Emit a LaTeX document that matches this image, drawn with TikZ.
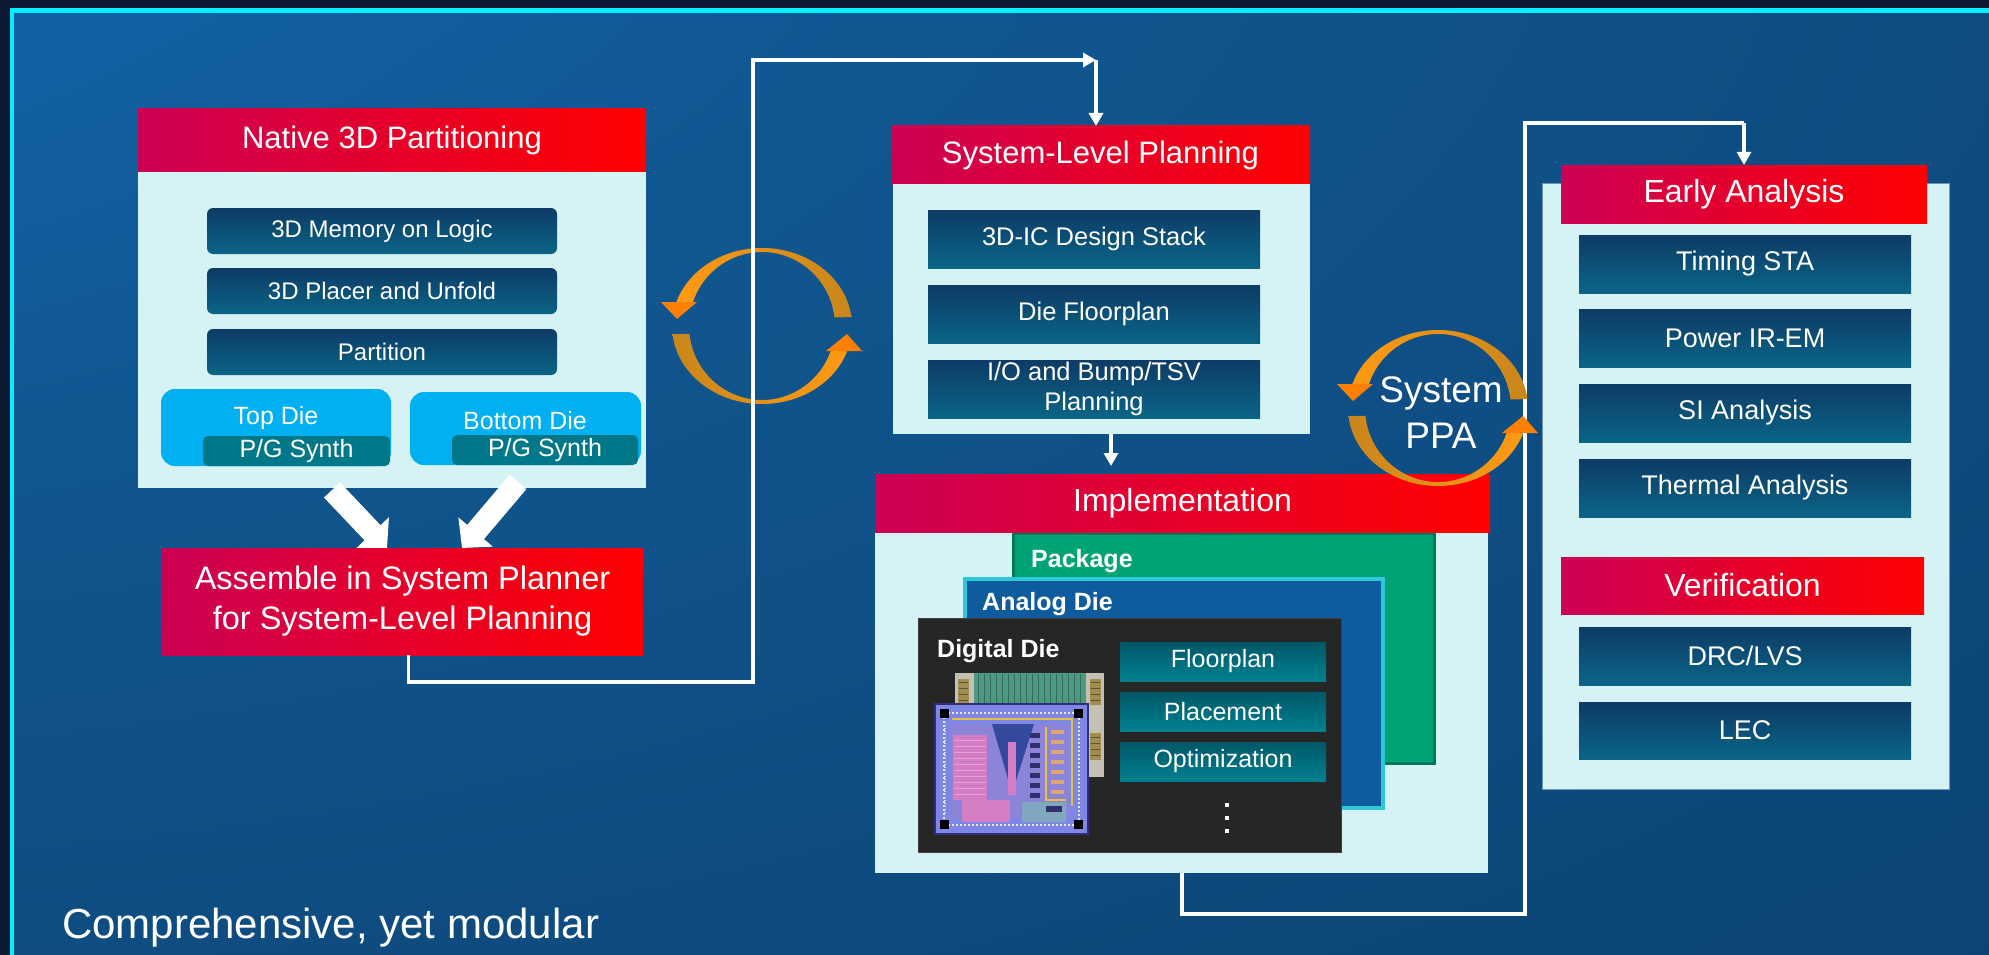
\documentclass[tikz,border=0pt]{standalone}
\usepackage{fontspec}
\setmainfont{Liberation Sans}
\usetikzlibrary{arrows.meta,calc}

\definecolor{hdrL}{HTML}{CC0055}
\definecolor{hdrR}{HTML}{FF0000}
\definecolor{panel}{HTML}{D5F3F4}
\definecolor{panelEdge}{HTML}{6A98B4}
\definecolor{itemTop}{HTML}{0D3B66}
\definecolor{itemBot}{HTML}{0A6587}
\definecolor{ddTop}{HTML}{005868}
\definecolor{ddBot}{HTML}{00808F}
\definecolor{dieBlue}{HTML}{00B0F0}
\definecolor{pgTeal}{HTML}{00788A}
\definecolor{pkgGreen}{HTML}{00A375}
\definecolor{pkgEdge}{HTML}{00795A}
\definecolor{anaBlue}{HTML}{0E5B9E}
\definecolor{anaEdge}{HTML}{2EC8D8}
\definecolor{digiDark}{HTML}{262626}
\definecolor{frameCyan}{HTML}{00F0FF}
\definecolor{outerNavy}{HTML}{0E1A33}
\definecolor{bgA}{HTML}{1775C8}
\definecolor{bgB}{HTML}{10568F}
\definecolor{bgC}{HTML}{0D4678}
\definecolor{bgD}{HTML}{0B3C6B}
\definecolor{bgE}{HTML}{0A3560}
\definecolor{arcGold}{HTML}{C8861C}
\definecolor{arcOrange}{HTML}{FF9A12}
\definecolor{headOrange}{HTML}{FF8000}
% die photograph palette
\definecolor{chipBeige}{HTML}{C4C0B2}
\definecolor{chipGreen}{HTML}{4C9A84}
\definecolor{padGold}{HTML}{A08E50}
\definecolor{chipEdge}{HTML}{30307A}
\definecolor{chipLav}{HTML}{7E86E6}
\definecolor{chipBlue}{HTML}{8C84D8}
\definecolor{chipPink}{HTML}{D47CC4}
\definecolor{chipWedge}{HTML}{34489C}
\definecolor{chipYellow}{HTML}{E8C040}
\definecolor{chipDark}{HTML}{30306A}
\definecolor{chipMix}{HTML}{7FA8C0}

\pgfdeclareradialshading{slideglow}{\pgfpoint{-50bp}{50bp}}{color(0bp)=(bgA); color(40bp)=(bgB); color(70bp)=(bgC); color(100bp)=(bgD); color(140bp)=(bgE); color(170bp)=(bgE)}

% pair of circular orange arrows around a centre point
\newcommand{\cyclearrows}[1]{%
\begin{scope}[shift={#1}]
  \shade[left color=arcOrange, right color=arcGold]
    (-6.6:90 and 78) arc[start angle=-6.6, end angle=-162, x radius=90, y radius=78]
    -- (-162:73 and 74) arc[start angle=-162, end angle=-6.6, x radius=73, y radius=74] -- cycle;
  \fill[headOrange] (-101,-24) -- (-65,-24) -- (-85,-7) -- cycle;
  \shade[left color=arcGold, right color=arcOrange]
    (-186:90 and 78) arc[start angle=-186, end angle=-341, x radius=90, y radius=78]
    -- (-341:73 and 74) arc[start angle=-341, end angle=-186, x radius=73, y radius=74] -- cycle;
  \fill[headOrange] (64,25) -- (100,25) -- (85,8) -- cycle;
\end{scope}}

\tikzset{
  sz/.style 2 args={minimum width=#1pt, minimum height=#2pt},
  hdr/.style={left color=hdrL, right color=hdrR, text=white, inner sep=0pt, outer sep=0pt,
              font=\fontsize{31}{36}\selectfont},
  hdrbig/.style={hdr, font=\fontsize{32}{40}\selectfont},
  panelbox/.style={fill=panel, inner sep=0pt, outer sep=0pt},
  itembox/.style={top color=itemTop, bottom color=itemBot, text=white, inner sep=0pt, outer sep=0pt},
  natitem/.style={itembox, rounded corners=6pt, font=\fontsize{24}{28}\selectfont},
  slpitem/.style={itembox, align=center, font=\fontsize{25.5}{30}\selectfont},
  eaitem/.style={itembox, font=\fontsize{27}{32}\selectfont},
  dditem/.style={top color=ddTop, bottom color=ddBot, text=white, inner sep=0pt,
                 font=\fontsize{25}{30}\selectfont},
  diebox/.style={fill=dieBlue, rounded corners=14pt, inner sep=0pt},
  pgbox/.style={fill=pgTeal, rounded corners=5pt, text=white, inner sep=0pt,
                font=\fontsize{25}{30}\selectfont},
  lbl/.style={text=white, inner sep=0pt},
  layerlbl/.style={lbl, anchor=base west, font=\fontsize{25}{30}\selectfont\bfseries},
  conn/.style={white, line width=3.5pt},
  headtip/.style={-{Triangle[length=13pt,width=14pt]}},
  blockarrow/.style={white, line width=22pt, -{Triangle[length=21pt,width=44pt]}},
}

\begin{document}
\begin{tikzpicture}[x=1pt, y=-1pt]
\useasboundingbox (0,0) rectangle (1989,955);

% slide background and frame
\begin{scope}
  \clip (0,0) rectangle (1989,955);
  \fill[outerNavy] (0,0) rectangle (1989,955);
  \shade[shading=slideglow] (12,10.5) rectangle (1989,955);
  \draw[frameCyan, line width=4.5pt] (12,960) -- (12,10.5) -- (1995,10.5);
\end{scope}

% iteration loop between partitioning and planning
\cyclearrows{(762,326)}

% ---------------- Native 3D partitioning ----------------
\node[hdr, sz={508}{63}] (nath) at (392,140.5) {Native 3D Partitioning};
\node[panelbox, sz={508}{316}] (natb) at (392,330) {};
\node[natitem, sz={350}{46}] (mem)  at (382,231) {3D Memory on Logic};
\node[natitem, sz={350}{46}] (plc)  at (382,291) {3D Placer and Unfold};
\node[natitem, sz={350}{46}] (part) at (382,352) {Partition};

\node[diebox, sz={230}{77}] (topd) at (276,427.5) {};
\node[lbl, font=\fontsize{25}{30}\selectfont] (topdl) at (276,418) {Top Die};
\node[pgbox, sz={187}{30}] (toppg) at (296.5,451) {P/G Synth};

\node[diebox, sz={231}{73}] (botd) at (525.5,428.5) {};
\node[lbl, font=\fontsize{25}{30}\selectfont] (botdl) at (525,421) {Bottom Die};
\node[pgbox, sz={186}{30}] (botpg) at (545,450) {P/G Synth};

% block arrows into the assembly step
\coordinate (a1s) at ($(natb.south west)+(194,2)$);
\coordinate (a1e) at ($(natb.south west)+(249,60)$);
\coordinate (a2s) at ($(natb.south west)+(380,-6)$);
\coordinate (a2e) at ($(natb.south west)+(324,60)$);
\draw[blockarrow] (a1s) -- (a1e);
\draw[blockarrow] (a2s) -- (a2e);

\node[hdr, sz={481}{107}, align=center, font=\fontsize{32.5}{40}\selectfont] (asm) at (402.5,601.5)
  {Assemble in System Planner\\for System-Level Planning};

% ---------------- System-level planning ----------------
\node[hdr, sz={419}{58}] (slph) at (1100.5,155) {System-Level Planning};
\node[panelbox, sz={417}{250}] (slpb) at (1101.5,309) {};
\node[slpitem, sz={332}{58}] (stack) at (1094,239) {3D-IC Design Stack};
\node[slpitem, sz={332}{58}] (dfp)   at (1094,314) {Die Floorplan};
\node[slpitem, sz={332}{58}] (iob)   at (1094,389) {I/O and Bump/TSV\\Planning};

% connector: assembly -> system-level planning
\coordinate (ja) at (1096,60);
\draw[conn, headtip] ([xshift=6pt]asm.south) |- (753,682) -- (753,60) -- (ja);
\draw[conn, headtip] (ja) -- ([xshift=-4.5pt]slph.north);

% ---------------- Implementation ----------------
\node[panelbox, sz={613}{341}] (impb) at (1181.5,702.5) {};
\node[fill=pkgGreen, draw=pkgEdge, line width=3pt, sz={421}{230}] (pkg) at (1223.5,648) {};
\node[layerlbl] (pkgl) at (1031,567) {Package};
\node[fill=anaBlue, draw=anaEdge, line width=4pt, sz={418}{229}] (ana) at (1174,693.5) {};
\node[layerlbl] (anal) at (982,610) {Analog Die};
\node[fill=digiDark, draw=gray!50!black, line width=1pt, sz={423}{234}] (dig) at (1129.5,735) {};
\node[layerlbl] (digl) at (937,657) {Digital Die};
\node[hdrbig, sz={615}{58}] (imph) at (1182.5,503) {Implementation};

\node[dditem, sz={206}{39}] (ddfp) at (1223,661.5) {Floorplan};
\node[dditem, sz={206}{39}] (ddpl) at (1223,711.5) {Placement};
\node[dditem, sz={206}{39}] (ddop) at (1223,761.5) {Optimization};
\foreach \y in {805,818,831} \fill[white] (1225,\y-2) rectangle (1229,\y+2);

% die photograph: rear die
\fill[chipBeige] (955,673) rectangle (1104,777);
\fill[chipGreen] (974,673) rectangle (1086,712);
\foreach \x in {978,984,...,1082} \draw[chipGreen!70!black, line width=0.6pt] (\x,674) -- (\x,711);
\fill[padGold] (958,679) rectangle (969,705);
\fill[padGold] (1090,679) rectangle (1101,705);
\fill[padGold] (1090,733) rectangle (1101,760);
\foreach \y in {682,688,...,700} {\draw[padGold!60!black, line width=0.8pt] (959,\y) -- (968,\y);
  \draw[padGold!60!black, line width=0.8pt] (1091,\y) -- (1100,\y);}
\foreach \y in {737,743,...,755} \draw[padGold!60!black, line width=0.8pt] (1091,\y) -- (1100,\y);
% die photograph: front die
\fill[chipEdge] (934,703) rectangle (1089,835);
\fill[chipLav] (936,705) rectangle (1087,833);
\fill[chipBlue] (950,724) rectangle (1070,818);
\draw[white!80!chipLav, line width=2pt, dash pattern=on 2pt off 2pt] (944,713) rectangle (1079,825);
\foreach \p in {(940,709),(1074,709),(940,820),(1074,820)} \fill[black] \p rectangle ++(9,9);
\draw[chipYellow, line width=2.5pt] (952,719) -- (1072,719) -- (1072,806);
\fill[chipPink] (953,735) rectangle (987,800);
\foreach \y in {740,746,...,796} \draw[chipPink!70!white, line width=0.6pt] (954,\y) -- (986,\y);
\fill[chipWedge] (992,724) -- (1034,724) -- (1012,793) -- cycle;
\fill[chipPink] (1008,742) rectangle (1016,795);
\foreach \y in {733,743,...,793} \fill[chipDark] (1030,\y) rectangle (1040,\y+5);
\draw[chipYellow, line width=1.5pt] (1046,727) -- (1046,800) -- (1066,800);
\foreach \y in {730,740,...,790} \fill[chipYellow!60!chipPink] (1051,\y) rectangle (1064,\y+4);
\fill[chipPink] (962,800) rectangle (1010,822);
\fill[chipMix] (1022,802) rectangle (1066,822);
\fill[chipDark] (1046,806) rectangle (1062,812);
\draw[white!70!chipLav, line width=1.5pt, dash pattern=on 1pt off 2pt] (945,722) -- (945,815);

% connector: planning -> implementation
\coordinate (bs) at ([xshift=9.5pt]slpb.south);
\draw[conn, headtip, shorten >=8pt] (bs) -- (bs |- imph.north);

% ---------------- Early analysis / verification ----------------
\node[panelbox, draw=panelEdge, line width=1pt, sz={407}{606}] (eab) at (1745.5,486) {};
\node[hdrbig, sz={366}{58}] (eah) at (1744,194) {Early Analysis};
\node[eaitem, sz={332}{58}] (sta) at (1745,264) {Timing STA};
\node[eaitem, sz={332}{58}] (pir) at (1745,338) {Power IR-EM};
\node[eaitem, sz={332}{58}] (sia) at (1745,413) {SI Analysis};
\node[eaitem, sz={332}{58}] (tha) at (1745,488) {Thermal Analysis};
\node[hdrbig, sz={363}{57}] (verh) at (1742.5,585.5) {Verification};
\node[eaitem, sz={332}{58}] (drc) at (1745,656) {DRC/LVS};
\node[eaitem, sz={332}{57}] (lec) at (1745,730.5) {LEC};

% connector: implementation -> early analysis
\coordinate (jc) at (1744,123);
\draw[conn] ([xshift=0.5pt]impb.south) |- (1525,914) -- (1525,123) -- (jc);
\draw[conn, headtip] (jc) -- (eah.north);

% system PPA loop
\cyclearrows{(1438,408)}
\node[lbl, align=center, font=\fontsize{37}{46}\selectfont] (ppa) at (1441,413) {System\\PPA};

\node[lbl, anchor=base west, font=\fontsize{42}{50}\selectfont] (motto) at (62,938) {Comprehensive, yet modular};
\end{tikzpicture}
\end{document}
